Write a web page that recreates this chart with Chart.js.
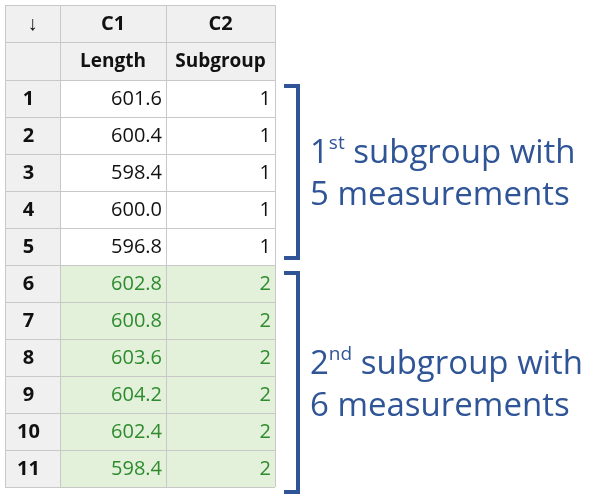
<!DOCTYPE html>
<html><head><meta charset="utf-8">
<script src="https://cdn.jsdelivr.net/npm/chart.js@4/dist/chart.umd.min.js"></script>
<style>html,body{margin:0;padding:0;background:#fff}canvas{display:block}</style>
</head><body>
<canvas id="c" width="598" height="501"></canvas>
<script>
const columnIds = ["↓", "C1", "C2"];
const columnNames = ["", "Length", "Subgroup"];
const rowNumbers = [1,2,3,4,5,6,7,8,9,10,11];
const lengths = ["601.6","600.4","598.4","600.0","596.8","602.8","600.8","603.6","604.2","602.4","598.4"];
const subgroups = [1,1,1,1,1,2,2,2,2,2,2];
const annotations = [
  {first: 1, last: 5, sup: "st", lead: "1", line1: " subgroup with", line2: "5 measurements"},
  {first: 6, last: 11, sup: "nd", lead: "2", line1: " subgroup with", line2: "6 measurements"}
];

const colX = [5, 60, 166, 275];
const headTop = 5, head1 = 42, head2 = 80, rowH = 37;

const tablePlugin = {
  id: 'table',
  afterDraw(chart) {
    const ctx = chart.ctx, xs = chart.scales.x, ys = chart.scales.y;
    const X = v => xs.getPixelForValue(v), Y = v => ys.getPixelForValue(v);
    const rowTop = i => head2 + i * rowH;
    const bottom = rowTop(rowNumbers.length);
    ctx.save();
    ctx.fillStyle = '#f0f0f0';
    ctx.fillRect(X(colX[0]), Y(headTop), X(colX[3]) - X(colX[0]), Y(head2) - Y(headTop));
    ctx.fillRect(X(colX[0]), Y(head2), X(colX[1]) - X(colX[0]), Y(bottom) - Y(head2));
    subgroups.forEach((g, i) => {
      if (g === 2) {
        ctx.fillStyle = '#e3f0da';
        ctx.fillRect(X(colX[1]), Y(rowTop(i)), X(colX[3]) - X(colX[1]), rowH);
      }
    });
    ctx.strokeStyle = '#c8c8c8'; ctx.lineWidth = 1;
    colX.forEach(x => { ctx.beginPath(); ctx.moveTo(X(x)+0.5, Y(headTop)); ctx.lineTo(X(x)+0.5, Y(bottom)); ctx.stroke(); });
    [headTop, head1, head2].concat(rowNumbers.map((_, i) => rowTop(i + 1))).forEach(y => {
      ctx.beginPath(); ctx.moveTo(X(colX[0]), Y(y)+0.5); ctx.lineTo(X(colX[3]), Y(y)+0.5); ctx.stroke();
    });
    ctx.fillStyle = '#111'; ctx.textBaseline = 'middle'; ctx.textAlign = 'center';
    ctx.font = 'bold 20px "Open Sans", sans-serif';
    columnIds.forEach((t, c) => ctx.fillText(t, X((colX[c] + colX[c+1]) / 2), Y((headTop + head1) / 2) + 1));
    ctx.font = 'bold 19px "Open Sans", sans-serif';
    columnNames.forEach((t, c) => ctx.fillText(t, X((colX[c] + colX[c+1]) / 2), Y((head1 + head2) / 2) + 1));
    rowNumbers.forEach((n, i) => {
      const cy = Y(rowTop(i) + rowH / 2) + 1;
      ctx.fillStyle = '#111'; ctx.textAlign = 'center';
      ctx.font = 'bold 20px "Open Sans", sans-serif';
      ctx.fillText(String(n), X((colX[0] + colX[1]) / 2) - 4, cy);
      ctx.font = '20px "Open Sans", sans-serif';
      ctx.textAlign = 'right';
      ctx.fillStyle = subgroups[i] === 2 ? '#2e8b2e' : '#111';
      ctx.fillText(lengths[i], X(colX[2]) - 4, cy);
      ctx.fillText(String(subgroups[i]), X(colX[3]) - 4, cy);
    });
    ctx.strokeStyle = '#2f5597'; ctx.fillStyle = '#2f5597'; ctx.lineWidth = 4;
    annotations.forEach((a, k) => {
      const top = rowTop(a.first - 1) + (k === 0 ? 6 : 8);
      const bot = rowTop(a.last) + (k === 0 ? -7 : 5);
      const bx = X(298);
      ctx.beginPath();
      ctx.moveTo(X(284), Y(top)); ctx.lineTo(bx, Y(top)); ctx.lineTo(bx, Y(bot)); ctx.lineTo(X(284), Y(bot));
      ctx.stroke();
      const mid = (top + bot) / 2;
      ctx.textAlign = 'left'; ctx.textBaseline = 'alphabetic';
      ctx.font = '33px "Open Sans", sans-serif';
      let x = X(310);
      const y1 = Y(mid - 9), y2 = Y(mid + 33);
      ctx.fillText(a.lead, x, y1); x += ctx.measureText(a.lead).width;
      ctx.font = '19px "Open Sans", sans-serif';
      ctx.fillText(a.sup, x, y1 - 14); x += ctx.measureText(a.sup).width;
      ctx.font = '33px "Open Sans", sans-serif';
      ctx.fillText(a.line1, x, y1);
      ctx.fillText(a.line2, X(310), y2);
    });
    ctx.restore();
  }
};

new Chart(document.getElementById('c'), {
  type: 'scatter',
  data: { datasets: [{ data: [] }] },
  options: {
    responsive: false, animation: false, devicePixelRatio: 1,
    layout: { padding: 0 },
    plugins: { legend: { display: false }, tooltip: { enabled: false } },
    scales: {
      x: { type: 'linear', min: 0, max: 598, display: false },
      y: { type: 'linear', min: 0, max: 501, reverse: true, display: false }
    }
  },
  plugins: [tablePlugin]
});
</script>
</body></html>
